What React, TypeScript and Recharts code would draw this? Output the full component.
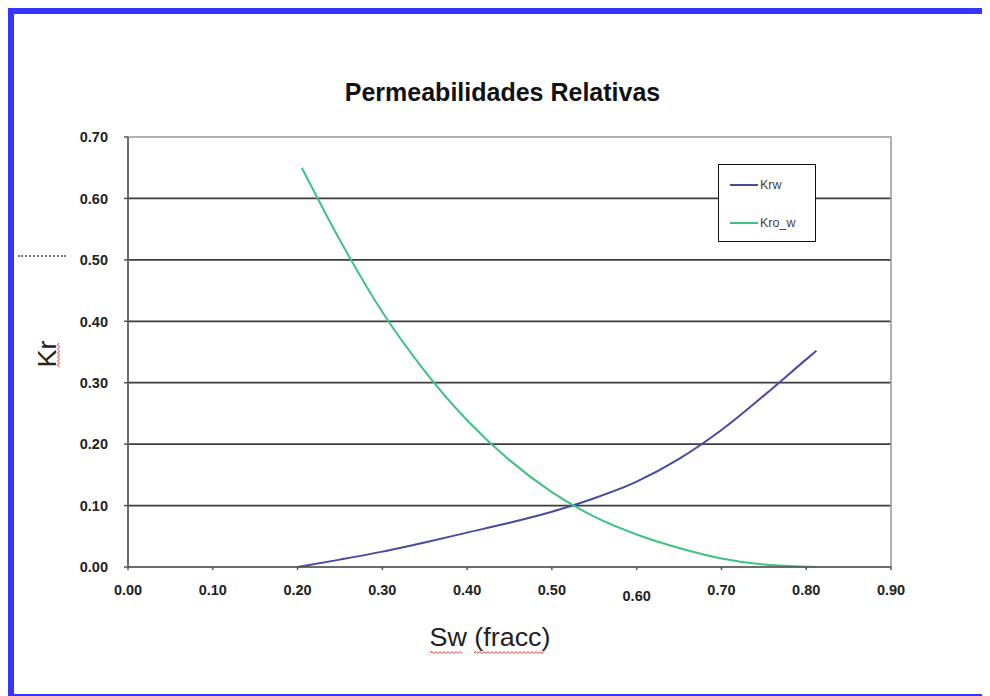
import { LineChart, Line, XAxis, YAxis, CartesianGrid, Legend, ReferenceArea } from "recharts"

// Sw values and relative permeabilities
const SW_KRW = [0.2, 0.25, 0.3, 0.35, 0.4, 0.45, 0.5, 0.55, 0.6, 0.65, 0.7, 0.75, 0.8, 0.812]
const KRW = [0, 0.012, 0.025, 0.04, 0.056, 0.072, 0.09, 0.112, 0.139, 0.176, 0.223, 0.279, 0.338, 0.352]
const SW_KRO = [0.205, 0.25, 0.3, 0.35, 0.4, 0.45, 0.5, 0.55, 0.6, 0.65, 0.7, 0.75, 0.8, 0.812]
const KRO = [0.65, 0.532, 0.415, 0.319, 0.239, 0.174, 0.122, 0.082, 0.053, 0.031, 0.014, 0.004, 0.0005, 0]

const X_TICKS = [0, 0.1, 0.2, 0.3, 0.4, 0.5, 0.6, 0.7, 0.8, 0.9]
const Y_TICKS = [0, 0.1, 0.2, 0.3, 0.4, 0.5, 0.6, 0.7]
const GRID_VALUES = [0.1, 0.2, 0.3, 0.4, 0.5, 0.6]

const SERIES = [
  { name: "Krw", color: "#4a4a9e" },
  { name: "Kro_w", color: "#3fc283" },
]

const krwData = SW_KRW.map((sw, i) => ({ sw, kr: KRW[i] }))
const kroData = SW_KRO.map((sw, i) => ({ sw, kr: KRO[i] }))

const BLUE = "#3535ff"
const FONT = "'Liberation Sans', Arial, sans-serif"

// red spell-check squiggle
function squiggle(x1: number, y: number, x2: number) {
  let d = `M${x1},${y}`
  let up = true
  for (let x = x1 + 2; x <= x2; x += 2) {
    d += ` L${x},${up ? y - 1.5 : y + 0.5}`
    up = !up
  }
  return d
}

function squiggleV(x: number, y1: number, y2: number) {
  let d = `M${x},${y1}`
  let left = true
  for (let y = y1 + 2; y <= y2; y += 2) {
    d += ` L${left ? x - 1.5 : x + 0.5},${y}`
    left = !left
  }
  return d
}

const XTick = (props: any) => {
  const { x, y, payload } = props
  const shift = Math.abs(payload.value - 0.6) < 1e-6 ? 6 : 0
  return (
    <text x={x} y={y + shift} dy="0.71em" textAnchor="middle" fontFamily={FONT} fontWeight="bold" fontSize={14.5} fill="#222">
      {payload.value.toFixed(2)}
    </text>
  )
}

const YTick = (props: any) => {
  const { x, y, payload } = props
  return (
    <text x={x} y={y} dy="0.36em" textAnchor="end" fontFamily={FONT} fontWeight="bold" fontSize={14.5} fill="#222">
      {payload.value.toFixed(2)}
    </text>
  )
}

const LegendBox = () => (
  <div
    style={{
      position: "relative",
      width: 98,
      height: 78,
      boxSizing: "border-box",
      border: "1.5px solid #111",
      background: "#fff",
      fontFamily: FONT,
      fontSize: 12.5,
      color: "#444",
    }}
  >
    {SERIES.map((s, i) => (
      <div key={s.name} style={{ position: "absolute", left: 11, top: 12 + i * 38, height: 16, display: "flex", alignItems: "center" }}>
        <div style={{ width: 28, height: 2, background: s.color }} />
        <span style={{ marginLeft: 2 }}>{s.name}</span>
      </div>
    ))}
  </div>
)

export default function App() {
  return (
    <div style={{ position: "relative", width: 982, height: 688, background: "#fff" }}>
      <LineChart width={982} height={688} margin={{ top: 129, right: 99, left: 60, bottom: 99 }}>
        <CartesianGrid horizontal vertical={false} horizontalValues={GRID_VALUES} stroke="#3c3c3c" strokeWidth={1.8} />
        <ReferenceArea x1={0} x2={0.9} y1={0} y2={0.7} fill="none" stroke="#999" strokeWidth={1.5} ifOverflow="visible" />
        <XAxis
          type="number"
          dataKey="sw"
          domain={[0, 0.9]}
          ticks={X_TICKS}
          allowDataOverflow
          height={30}
          tickSize={3}
          tickMargin={15}
          stroke="#555"
          strokeWidth={1.5}
          tick={XTick}
          label={{
            content: () => (
              <g>
                <text x={482} y={638} textAnchor="middle" fontFamily={FONT} fontSize={26} textLength={121} lengthAdjust="spacingAndGlyphs" fill="#222">
                  Sw (fracc)
                </text>
                <path d={squiggle(422, 645, 454)} stroke="#e03030" strokeWidth={1} fill="none" />
                <path d={squiggle(466, 645, 536)} stroke="#e03030" strokeWidth={1} fill="none" />
              </g>
            ),
          }}
        />
        <YAxis
          type="number"
          domain={[0, 0.7]}
          ticks={Y_TICKS}
          width={60}
          tickSize={4}
          tickMargin={16}
          stroke="#555"
          strokeWidth={1.5}
          tick={YTick}
          label={{
            content: () => (
              <g>
                <text
                  x={0}
                  y={0}
                  transform="translate(48,346) rotate(-90)"
                  textAnchor="middle"
                  fontFamily={FONT}
                  fontSize={26}
                  textLength={27}
                  lengthAdjust="spacingAndGlyphs"
                  fill="#222"
                >
                  Kr
                </text>
                <path d={squiggleV(51, 335, 359)} stroke="#e03030" strokeWidth={1} fill="none" />
              </g>
            ),
          }}
        />
        <Line data={krwData} dataKey="kr" name="Krw" type="monotone" stroke={SERIES[0].color} strokeWidth={2} dot={false} isAnimationActive={false} />
        <Line data={kroData} dataKey="kr" name="Kro_w" type="monotone" stroke={SERIES[1].color} strokeWidth={2} dot={false} isAnimationActive={false} />
        <Legend
          layout="vertical"
          align="center"
          verticalAlign="middle"
          content={LegendBox}
          wrapperStyle={{ position: "absolute", left: 710, top: 156, width: 98, height: 78 }}
        />
      </LineChart>

      <div
        style={{
          position: "absolute",
          left: 0,
          top: 70,
          width: 989,
          textAlign: "center",
          fontFamily: FONT,
          fontWeight: "bold",
          fontSize: 25,
          color: "#111",
        }}
      >
        Permeabilidades Relativas
      </div>

      {/* blue frame */}
      <div style={{ position: "absolute", left: 0, top: 0, width: 982, height: 6, background: BLUE }} />
      <div style={{ position: "absolute", left: 0, top: 0, width: 6, height: 688, background: BLUE }} />
      <div style={{ position: "absolute", left: 0, top: 686, width: 982, height: 2, background: BLUE }} />
      <div style={{ position: "absolute", left: 10, top: 247, width: 48, borderTop: "2px dotted #777" }} />
    </div>
  )
}
